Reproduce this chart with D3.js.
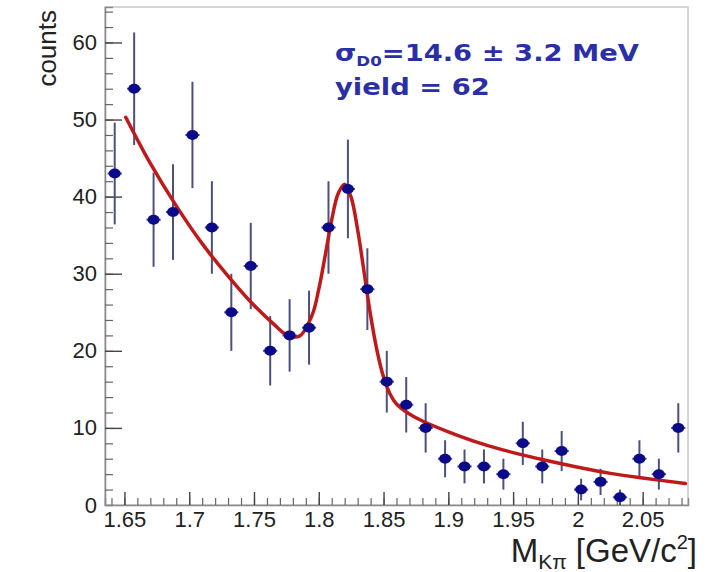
<!DOCTYPE html>
<html>
<head>
<meta charset="utf-8">
<script src="https://cdn.jsdelivr.net/npm/d3@7"></script>
<style>
  html, body { margin: 0; padding: 0; background: #fff; }
  svg { display: block; }
</style>
</head>
<body>
<svg id="chart" width="710" height="572"></svg>
<script>
// ---- data ----
const binCenters = [1.6425, 1.6575, 1.6725, 1.6875, 1.7025, 1.7175, 1.7325, 1.7475, 1.7625, 1.7775,
                    1.7925, 1.8075, 1.8225, 1.8375, 1.8525, 1.8675, 1.8825, 1.8975, 1.9125, 1.9275,
                    1.9425, 1.9575, 1.9725, 1.9875, 2.0025, 2.0175, 2.0325, 2.0475, 2.0625, 2.0775];
const counts = [43, 54, 37, 38, 48, 36, 25, 31, 20, 22,
                23, 36, 41, 28, 16, 13, 10, 6, 5, 5,
                4, 8, 5, 7, 2, 3, 1, 6, 4, 10];
const countErrors = [6.6, 7.3, 6.1, 6.2, 6.9, 6.0, 5.0, 5.6, 4.5, 4.7,
                     4.8, 6.0, 6.4, 5.3, 4.0, 3.6, 3.2, 2.4, 2.2, 2.2,
                     2.0, 2.8, 2.2, 2.6, 1.4, 1.7, 1.0, 2.4, 2.0, 3.2];
const halfBinDrawn = 0.0055;

// fit curve
const fitX = [1.651, 1.67, 1.69, 1.71, 1.73, 1.75, 1.765, 1.775, 1.785, 1.795,
              1.80, 1.805, 1.81, 1.815, 1.82, 1.825, 1.83, 1.835, 1.84, 1.845,
              1.85, 1.855, 1.86, 1.87, 1.88, 1.90, 1.925, 1.95, 1.975, 2.0,
              2.025, 2.05, 2.083];
const fitY = [50.3, 44.3, 38.8, 33.9, 29.7, 25.9, 23.5, 22.1, 21.9, 24.7,
              28.0, 32.4, 37.0, 40.4, 41.6, 39.9, 35.7, 30.2, 24.6, 20.0,
              16.6, 14.4, 13.1, 11.8, 10.9, 9.5, 8.0, 6.8, 5.8, 4.9,
              4.1, 3.5, 2.8];

const xTickValues = [1.65, 1.7, 1.75, 1.8, 1.85, 1.9, 1.95, 2.0, 2.05];
const xTickLabels = ["1.65", "1.7", "1.75", "1.8", "1.85", "1.9", "1.95", "2", "2.05"];
const yTickValues = [0, 10, 20, 30, 40, 50, 60];
const yTickLabels = ["0", "10", "20", "30", "40", "50", "60"];

const xDomain = [1.635, 2.085];
const yDomain = [0, 64.6];

// ---- layout ----
const svg = d3.select("#chart");
const L = 105, R = 688, T = 7, B = 505;

const x = d3.scaleLinear().domain(xDomain).range([L, R]);
const y = d3.scaleLinear().domain(yDomain).range([B, T]);

const axisColor = "#666";

// frame
svg.append("rect")
  .attr("x", L).attr("y", T).attr("width", R - L).attr("height", B - T)
  .attr("fill", "none").attr("stroke", "#c8c8c8").attr("stroke-width", 1.5);

// x axis (ticks point up into plot)
const xMinor = d3.range(1.64, 2.0851, 0.01).map(v => +v.toFixed(3));
const gx = svg.append("g").attr("transform", `translate(0,${B})`);
gx.call(d3.axisTop(x).tickValues(xMinor).tickSize(7).tickFormat(""))
  .call(g => g.select(".domain").attr("stroke", "#888").attr("stroke-width", 1.5))
  .call(g => g.selectAll(".tick line").attr("stroke", axisColor).attr("stroke-width", 1.2));
const gxMaj = svg.append("g").attr("transform", `translate(0,${B})`);
gxMaj.call(d3.axisTop(x).tickValues(xTickValues).tickSize(13).tickFormat(""))
  .call(g => g.select(".domain").remove())
  .call(g => g.selectAll(".tick line").attr("stroke", "#444").attr("stroke-width", 1.4));
const gxLab = svg.append("g").attr("transform", `translate(0,${B})`);
gxLab.call(d3.axisBottom(x).tickValues(xTickValues).tickSize(0)
      .tickFormat((d, i) => xTickLabels[i]))
  .call(g => g.select(".domain").remove())
  .call(g => g.selectAll(".tick text")
      .attr("font-family", "Liberation Sans, Arial, sans-serif")
      .attr("font-size", 22).attr("fill", "#222").attr("dy", "0.85em"));

// y axis (ticks point right into plot)
const yMinor = d3.range(2, 65, 2);
const gy = svg.append("g").attr("transform", `translate(${L},0)`);
gy.call(d3.axisRight(y).tickValues(yMinor).tickSize(8).tickFormat(""))
  .call(g => g.select(".domain").attr("stroke", "#888").attr("stroke-width", 1.5))
  .call(g => g.selectAll(".tick line").attr("stroke", axisColor).attr("stroke-width", 1.2));
const gyMaj = svg.append("g").attr("transform", `translate(${L},0)`);
gyMaj.call(d3.axisRight(y).tickValues(yTickValues.filter(v => v > 0)).tickSize(17).tickFormat(""))
  .call(g => g.select(".domain").remove())
  .call(g => g.selectAll(".tick line").attr("stroke", "#444").attr("stroke-width", 1.4));
const gyLab = svg.append("g").attr("transform", `translate(${L},0)`);
gyLab.call(d3.axisLeft(y).tickValues(yTickValues).tickSize(0).tickPadding(8)
      .tickFormat((d, i) => yTickLabels[i]))
  .call(g => g.select(".domain").remove())
  .call(g => g.selectAll(".tick text")
      .attr("font-family", "Liberation Sans, Arial, sans-serif")
      .attr("font-size", 22).attr("fill", "#222"));

// axis titles
svg.append("text")
  .attr("transform", `translate(56,${T + 3}) rotate(-90)`)
  .attr("text-anchor", "end")
  .attr("font-family", "Liberation Sans, Arial, sans-serif")
  .attr("font-size", 26).attr("fill", "#222")
  .text("counts");

const xt = svg.append("text")
  .attr("x", 697).attr("y", 562)
  .attr("text-anchor", "end")
  .attr("font-family", "Liberation Sans, Arial, sans-serif")
  .attr("font-size", 33).attr("fill", "#222");
xt.append("tspan").text("M");
xt.append("tspan").attr("font-size", 21).attr("dy", 7).text("Kπ");
xt.append("tspan").attr("dy", -7).text(" [GeV/c");
xt.append("tspan").attr("font-size", 20).attr("dy", -13).text("2");
xt.append("tspan").attr("dy", 13).text("]");

// error bars
const pts = binCenters.map((c, i) => ({ x: c, y: counts[i], e: countErrors[i] }));
const errColor = "#4c5080";
svg.append("g").selectAll("line.v").data(pts).join("line")
  .attr("x1", d => x(d.x)).attr("x2", d => x(d.x))
  .attr("y1", d => y(Math.max(0, d.y - d.e))).attr("y2", d => y(d.y + d.e))
  .attr("stroke", errColor).attr("stroke-width", 2);
svg.append("g").selectAll("line.h").data(pts).join("line")
  .attr("x1", d => x(d.x - halfBinDrawn)).attr("x2", d => x(d.x + halfBinDrawn))
  .attr("y1", d => y(d.y)).attr("y2", d => y(d.y))
  .attr("stroke", errColor).attr("stroke-width", 2);

// fit curve
const line = d3.line().x((d, i) => x(fitX[i])).y(d => y(d)).curve(d3.curveCatmullRom.alpha(0.5));
svg.append("path").datum(fitY)
  .attr("d", line)
  .attr("fill", "none").attr("stroke", "#bf1a1a").attr("stroke-width", 3.5)
  .attr("stroke-linejoin", "round").attr("stroke-linecap", "round");

// markers
svg.append("g").selectAll("ellipse").data(pts).join("ellipse")
  .attr("cx", d => x(d.x)).attr("cy", d => y(d.y))
  .attr("rx", 6).attr("ry", 5)
  .attr("fill", "#0b0b8a");

// annotation
const ann = svg.append("g")
  .attr("transform", "translate(335,0) scale(1.19,1)")
  .attr("font-family", "DejaVu Sans, Verdana, sans-serif")
  .attr("font-weight", "bold")
  .attr("fill", "#2b2fa6");
const t1 = ann.append("text").attr("x", 0).attr("y", 61).attr("font-size", 23);
t1.append("tspan").text("σ");
t1.append("tspan").attr("font-size", 14).attr("dy", 5).text("D0");
t1.append("tspan").attr("dy", -5).text("=14.6 ± 3.2 MeV");
ann.append("text").attr("x", 0).attr("y", 95).attr("font-size", 23).text("yield = 62");
</script>
</body>
</html>
